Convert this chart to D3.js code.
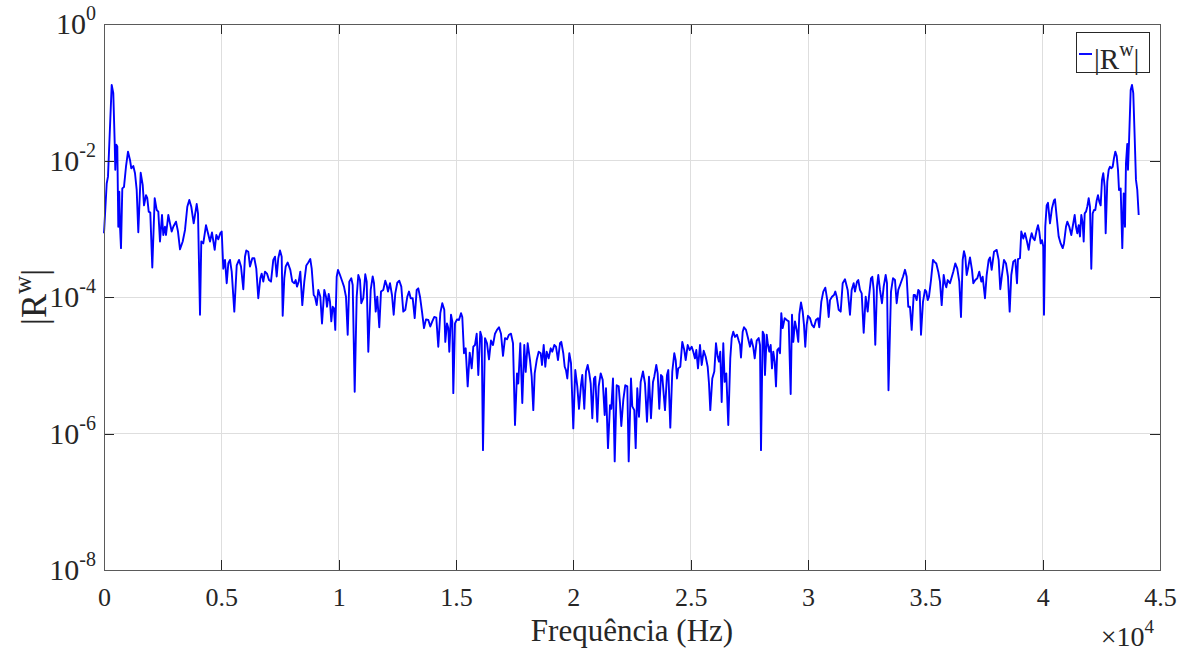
<!DOCTYPE html>
<html><head><meta charset="utf-8">
<script src="https://cdn.jsdelivr.net/npm/d3@7"></script>
<style>
body{margin:0;background:#fff}
text{font-family:"Liberation Serif","Times New Roman",serif;fill:#262626}
</style>
</head><body>
<svg id="chart" width="1195" height="653"></svg>
<script>
// ---- data ----
const freqHz = [0,115,170,328,396,456,481,524,567,609,652,682,724,780,852,937,1023,1108,1163,1249,1321,1393,1462,1564,1649,1705,1790,1845,1905,1973,2058,2160,2246,2314,2386,2472,2527,2599,2642,2740,2812,2885,2953,3068,3153,3239,3354,3452,3550,3635,3720,3822,3950,4006,4091,4146,4231,4347,4432,4517,4602,4717,4786,4871,4956,5016,5084,5156,5229,5297,5369,5442,5553,5655,5753,5838,5936,6008,6064,6149,6221,6320,6405,6490,6575,6661,6720,6788,6861,6946,7031,7116,7214,7287,7359,7427,7500,7572,7615,7683,7743,7828,7939,8024,8109,8169,8224,8297,8365,8450,8535,8621,8706,8791,8851,8936,8991,9064,9132,9218,9290,9388,9460,9503,9575,9631,9686,9746,9801,9856,9916,9971,10057,10142,10227,10312,10385,10453,10538,10598,10683,10768,10837,10909,10964,11049,11134,11194,11263,11365,11450,11506,11578,11646,11731,11804,11902,11987,12047,12102,12187,12272,12345,12413,12498,12584,12669,12754,12839,12925,12997,13069,13154,13240,13325,13393,13466,13551,13636,13721,13820,13905,13990,14075,14160,14245,14331,14416,14501,14544,14616,14672,14714,14787,14842,14885,14957,15042,15128,15213,15268,15341,15413,15498,15584,15669,15737,15809,15882,15950,16035,16095,16150,16236,16321,16406,16491,16576,16662,16747,16832,16917,17003,17088,17173,17258,17343,17429,17514,17599,17654,17740,17825,17910,17970,18055,18153,18225,18294,18353,18439,18524,18609,18665,18737,18805,18865,18950,19035,19103,19189,19261,19346,19432,19487,19572,19632,19687,19743,19828,19901,19998,20083,20169,20241,20326,20382,20467,20539,20612,20680,20740,20808,20880,20936,21021,21081,21166,21251,21336,21392,21477,21562,21618,21690,21763,21848,21933,21988,22044,22129,22214,22300,22359,22457,22512,22597,22657,22725,22798,22870,22968,23054,23139,23224,23309,23395,23450,23535,23594,23663,23735,23791,23906,23991,24047,24132,24217,24302,24362,24417,24472,24558,24643,24728,24788,24873,24958,25044,25112,25184,25240,25312,25397,25470,25555,25640,25725,25781,25836,25921,26007,26079,26151,26207,26262,26322,26390,26450,26518,26603,26688,26748,26816,26889,26974,27046,27102,27144,27217,27272,27358,27443,27528,27584,27669,27729,27814,27899,27954,27997,28069,28125,28167,28240,28295,28350,28410,28465,28521,28581,28636,28691,28751,28807,28862,28922,29007,29092,29177,29262,29318,29373,29446,29518,29586,29629,29701,29774,29829,29884,29944,29999,30084,30170,30255,30340,30426,30481,30566,30651,30737,30822,30882,30937,31022,31107,31163,31223,31308,31393,31478,31576,31690,31789,31861,31946,32002,32088,32143,32215,32288,32373,32458,32543,32599,32684,32740,32799,32867,32940,32995,33068,33153,33225,33310,33366,33430,33537,33622,33707,33779,33847,33950,34048,34133,34205,34273,34346,34418,34503,34559,34631,34699,34759,34815,34900,34985,35041,35100,35156,35241,35326,35381,35467,35552,35624,35697,35782,35837,35893,35952,36050,36191,36276,36362,36447,36519,36592,36647,36703,36762,36818,36903,36988,37044,37129,37214,37299,37385,37444,37542,37614,37699,37755,37827,37926,38040,38125,38194,38266,38352,38437,38522,38594,38663,38748,38833,38906,38948,39033,39089,39174,39247,39319,39404,39460,39532,39600,39660,39745,39801,39856,39916,39971,40026,40056,40111,40171,40226,40312,40397,40482,40525,40597,40682,40767,40853,40908,40994,41050,41135,41220,41279,41365,41420,41476,41535,41590,41646,41706,41748,41791,41846,41902,41961,42016,42072,42131,42187,42242,42302,42357,42413,42472,42528,42583,42643,42685,42754,42813,42869,42924,42984,43039,43095,43155,43210,43253,43324,43393,43453,43508,43550,43606,43636,43678,43751,43806,43861,43921,43976,44032,44092];

const magnitude = [8.6e-4,4.6e-3,5.8e-3,0.128,0.097,0.018,7.3e-3,0.017,0.016,1.07e-3,3.5e-3,1.07e-3,5.2e-4,3.9e-3,4.1e-3,8.1e-3,0.0135,0.0102,7.7e-3,8.3e-3,6.5e-3,3.7e-3,8.9e-4,6.6e-3,4.4e-3,2.2e-3,3.1e-3,2.8e-3,1.78e-3,1.72e-3,2.7e-4,2.8e-3,1.88e-3,1.78e-3,6.5e-4,1.59e-3,8.1e-4,1.07e-3,8.1e-4,1.59e-3,1.2e-3,9.1e-4,1.07e-3,1.27e-3,9.1e-4,5.0e-4,6.5e-4,9.6e-4,2.1e-3,2.64e-3,2.1e-3,1.2e-3,2.3e-3,1.68e-3,5.5e-5,6.5e-4,6.1e-4,1.13e-3,8.6e-4,6.5e-4,8.8e-4,4.9e-4,8.1e-4,7.0e-4,8.6e-4,9.1e-4,2.6e-4,3.5e-4,1.59e-4,3.1e-4,3.5e-4,2.35e-4,6.1e-5,2.9e-4,3.5e-4,2.8e-4,1.3e-4,3.9e-4,4.8e-4,4.6e-4,2.8e-4,3.7e-4,3.7e-4,2.6e-4,9.6e-5,1.88e-4,2.2e-4,1.68e-4,2.35e-4,2.2e-4,1.77e-4,1.68e-4,3.5e-4,3.9e-4,2.0e-4,3.7e-4,4.8e-4,3.9e-4,5.3e-5,1.88e-4,2.8e-4,3.2e-4,2.5e-4,1.68e-4,1.59e-4,1.77e-4,1.42e-4,1.68e-4,2.35e-4,7.6e-5,1.68e-4,2.9e-4,3.2e-4,3.6e-4,2.6e-4,1.07e-4,1.01e-4,7.6e-5,1.27e-4,1.01e-4,4.1e-5,1.27e-4,1.01e-4,7.2e-5,1.11e-4,8.5e-5,4.4e-5,7.2e-5,6.8e-5,3.3e-5,1.98e-4,2.5e-4,2.1e-4,1.73e-4,1.42e-4,1.01e-4,2.8e-5,1.68e-4,1.88e-4,1.5e-4,4.1e-6,1.01e-4,2.1e-4,1.77e-4,8.1e-5,9.6e-5,2.15e-4,1.68e-4,1.58e-5,1.27e-4,2.0e-4,1.59e-4,6.1e-5,1.01e-4,3.6e-5,1.2e-4,1.27e-4,1.73e-4,1.5e-4,1.2e-4,1.59e-4,1.07e-4,5.5e-5,1.13e-4,1.62e-4,1.73e-4,1.42e-4,6.1e-5,6.5e-5,1.01e-4,1.2e-4,9.6e-5,9.6e-5,4.9e-5,1.27e-4,1.34e-4,1.01e-4,6.1e-5,3.5e-5,4.7e-5,4.6e-5,3.7e-5,4.4e-5,5.1e-5,5.0e-5,1.87e-5,5.8e-5,8.1e-5,6.5e-5,2.2e-5,4.1e-5,3.5e-5,1.58e-5,5.5e-5,4.4e-5,3.9e-6,4.1e-5,4.7e-5,4.6e-5,5.8e-5,5.1e-5,1.5e-5,1.77e-5,4.9e-6,1.53e-5,9.0e-6,1.87e-5,1.98e-5,2.9e-5,7.2e-6,3.1e-5,2.6e-5,5.7e-7,2.5e-5,2.1e-5,1.22e-5,2.3e-5,1.98e-5,2.9e-5,3.3e-5,3.6e-5,2.9e-5,1.37e-5,2.5e-5,2.4e-5,2.8e-5,2.9e-5,2.1e-5,1.33e-6,7.6e-6,5.4e-6,2.1e-5,2.8e-6,1.98e-5,8.0e-6,2.1e-5,1.19e-5,6.8e-6,2.2e-6,7.6e-6,1.19e-5,1.58e-5,1.5e-5,1.01e-5,1.98e-5,9.5e-6,1.58e-5,1.26e-5,1.77e-5,1.58e-5,1.98e-5,1.87e-5,1.19e-5,2.1e-5,2.2e-5,1.5e-5,9.5e-6,8.5e-6,6.4e-6,1.5e-5,1.07e-5,1.19e-6,8.5e-6,4.9e-6,2.3e-6,5.1e-6,7.2e-6,2.3e-6,8.1e-6,1.01e-5,7.6e-6,5.4e-6,1.67e-6,6.4e-6,6.8e-6,1.49e-6,4.9e-6,7.6e-6,6.1e-6,1.87e-6,4.6e-6,6.1e-7,2.6e-6,2.3e-6,6.4e-6,3.9e-7,5.1e-6,4.9e-6,2.8e-6,1.29e-6,3.1e-6,5.1e-6,4.9e-6,3.9e-7,6.4e-6,2.5e-6,2.2e-6,6.1e-7,4.6e-6,1.76e-6,5.7e-6,8.1e-6,5.4e-6,1.49e-6,6.8e-6,1.67e-6,5.7e-6,6.8e-6,1.01e-5,7.6e-6,2.3e-6,7.2e-6,6.8e-6,2.2e-6,7.2e-6,8.5e-6,1.22e-6,8.1e-6,1.5e-5,1.19e-5,6.4e-6,9.0e-6,9.5e-6,2.2e-5,1.67e-5,1.19e-5,1.98e-5,1.67e-5,1.87e-5,1.58e-5,1.26e-5,1.67e-5,9.0e-6,1.98e-5,1.01e-5,1.63e-5,1.33e-5,9.5e-6,5.4e-6,2.2e-6,6.4e-6,8.1e-6,2.1e-5,1.33e-5,1.13e-5,1.58e-5,2.9e-6,2.1e-5,5.7e-6,7.6e-6,1.33e-6,1.26e-5,2.5e-5,3.1e-5,2.6e-5,2.8e-5,2.3e-5,2.0e-5,1.3e-5,3.1e-5,3.6e-5,3.3e-5,2.5e-5,1.87e-5,2.4e-5,1.83e-5,1.26e-5,2.3e-5,2.5e-5,1.98e-5,5.7e-7,3.1e-5,2.8e-5,7.2e-6,2.8e-5,1.98e-5,1.58e-5,1.98e-5,9.0e-6,1.58e-5,1.13e-5,4.9e-6,1.67e-5,1.77e-5,1.5e-5,5.8e-5,3.5e-5,4.9e-5,4.6e-5,4.4e-5,3.8e-6,5.5e-5,2.2e-5,4.4e-5,3.3e-5,2.2e-5,5.5e-5,8.3e-5,6.1e-5,3.9e-5,1.87e-5,3.9e-5,5.3e-5,4.9e-5,3.9e-5,3.6e-5,4.6e-5,4.9e-5,3.6e-5,8.5e-5,1.2e-4,1.37e-4,9.0e-5,5.1e-5,9.0e-5,1.01e-4,1.07e-4,1.2e-4,1.01e-4,6.5e-5,6.1e-5,1.59e-4,1.82e-4,1.27e-4,5.5e-5,1.27e-4,1.59e-4,1.2e-4,1.68e-4,1.77e-4,1.27e-4,1.13e-4,3.0e-5,1.01e-4,6.1e-5,1.01e-4,1.88e-4,1.98e-4,1.27e-4,2.0e-5,1.42e-4,2.1e-4,1.27e-4,8.1e-5,1.42e-4,2.1e-4,1.59e-4,4.3e-6,1.2e-4,1.88e-4,1.77e-4,8.1e-5,1.27e-4,1.59e-4,1.98e-4,2.5e-4,1.98e-4,7.2e-5,7.2e-5,3.3e-5,1.07e-4,1.07e-4,9.0e-5,1.27e-4,1.2e-4,2.8e-5,8.5e-5,1.27e-4,1.2e-4,9.0e-5,1.01e-4,1.77e-4,3.5e-4,3.3e-4,3.1e-4,2.35e-4,1.68e-4,7.6e-5,2.1e-4,1.59e-4,1.39e-4,1.77e-4,1.59e-4,2.35e-4,3.1e-4,2.6e-4,1.68e-4,5.1e-5,3.5e-4,4.7e-4,3.9e-4,2.1e-4,2.6e-4,3.8e-4,2.5e-4,1.59e-4,1.77e-4,1.88e-4,2.35e-4,1.68e-4,1.98e-4,9.6e-5,2.1e-4,3.5e-4,3.8e-4,2.5e-4,4.6e-4,4.9e-4,3.5e-4,1.3e-4,2.1e-4,3.5e-4,3.1e-4,1.98e-4,6.1e-5,2.1e-4,3.3e-4,3.5e-4,1.59e-4,3.6e-4,3.7e-4,9.1e-4,7.2e-4,8.6e-4,6.8e-4,4.9e-4,6.8e-4,8.6e-4,7.2e-4,6.8e-4,9.6e-4,1.13e-3,9.1e-4,6.1e-4,6.8e-4,5.5e-4,5.5e-5,1.07e-3,2.2e-3,2.4e-3,1.2e-3,2.0e-3,2.6e-3,2.7e-3,1.5e-3,7.7e-4,6.1e-4,5.2e-4,6.1e-4,1.07e-3,1.27e-3,1.07e-3,8.1e-4,1.07e-3,1.59e-3,1.07e-3,8.6e-4,1.13e-3,7.7e-4,1.59e-3,1.2e-3,6.5e-4,1.68e-3,1.78e-3,2.1e-3,2.8e-3,2.1e-3,2.6e-4,1.68e-3,1.88e-3,1.88e-3,2.6e-3,3.1e-3,2.5e-3,2.2e-3,5.2e-3,6.5e-3,4.1e-3,8.6e-4,4.9e-3,7.3e-3,8.1e-3,7.7e-3,8.1e-3,0.0108,0.0135,0.0116,7.3e-3,3.7e-3,3.9e-3,5.2e-4,3.3e-3,1.07e-3,9.1e-3,0.0175,7.3e-3,0.0179,0.108,0.128,0.097,0.022,5.2e-3,3.7e-3,1.59e-3];

const xTickValues = [0,5000,10000,15000,20000,25000,30000,35000,40000,45000];
const xTickLabels = ["0","0.5","1","1.5","2","2.5","3","3.5","4","4.5"];
const yTickValues = [1e-8,1e-6,1e-4,1e-2,1];
const yTickExponents = ["-8","-6","-4","-2","0"];
const xAxisTitle = "Frequência (Hz)";
const seriesLabel = {base:"|R", sup:"w", tail:"|"};

// ---- layout ----
const L=104, R=1160, T=24, B=570;
const svg = d3.select("#chart");
const x = d3.scaleLinear().domain([0,45000]).range([L,R]);
const y = d3.scaleLog().domain([1e-8,1]).range([B,T]);

// grid
const grid = svg.append("g").attr("stroke","#dedede").attr("stroke-width",1).attr("shape-rendering","crispEdges");
xTickValues.slice(1,-1).forEach(v=>grid.append("line").attr("x1",x(v)).attr("x2",x(v)).attr("y1",T).attr("y2",B));
yTickValues.slice(1,-1).forEach(v=>grid.append("line").attr("x1",L).attr("x2",R).attr("y1",y(v)).attr("y2",y(v)));

// data line
const pts = freqHz.map((f,i)=>[f,magnitude[i]]);
svg.append("path").datum(pts)
  .attr("fill","none").attr("stroke","#0000ff").attr("stroke-width",1.9).attr("stroke-linejoin","round")
  .attr("d", d3.line().x(d=>x(d[0])).y(d=>y(d[1])));

// axes (inward ticks on all four sides)
const tl = 10;
const axB = svg.append("g").attr("transform",`translate(0,${B})`)
  .call(d3.axisBottom(x).tickValues(xTickValues).tickSize(-tl).tickFormat((d,i)=>xTickLabels[i]).tickPadding(18));
const axT = svg.append("g").attr("transform",`translate(0,${T})`)
  .call(d3.axisTop(x).tickValues(xTickValues).tickSize(-tl).tickFormat(""));
const axL = svg.append("g").attr("transform",`translate(${L},0)`)
  .call(d3.axisLeft(y).tickValues(yTickValues).tickSize(-tl).tickFormat(""));
const axR = svg.append("g").attr("transform",`translate(${R},0)`)
  .call(d3.axisRight(y).tickValues(yTickValues).tickSize(-tl).tickFormat(""));
[axB,axT,axL,axR].forEach(a=>{
  a.select(".domain").remove();
  a.selectAll(".tick line").attr("stroke","#262626").attr("shape-rendering","crispEdges");
});
axB.selectAll(".tick text").attr("font-size",26).attr("fill","#262626")
  .attr("font-family",'"Liberation Serif",serif').attr("dy","0.71em");

svg.append("rect").attr("x",L).attr("y",T).attr("width",R-L).attr("height",B-T)
  .attr("fill","none").attr("stroke","#5a5a5a").attr("stroke-width",1).attr("shape-rendering","crispEdges");

// y tick labels 10^n
yTickValues.forEach((v,i)=>{
  const t = svg.append("text").attr("x",96).attr("y",y(v)+10).attr("text-anchor","end").attr("font-size",30);
  t.append("tspan").text("10");
  t.append("tspan").attr("dy",-14).attr("font-size",20).text(yTickExponents[i]);
});

// x axis title
svg.append("text").attr("x",(L+R)/2).attr("y",641).attr("text-anchor","middle").attr("font-size",31).text(xAxisTitle);

// x10^4 multiplier
const mult = svg.append("text").attr("x",1154).attr("y",646).attr("text-anchor","end").attr("font-size",28);
mult.append("tspan").text("\u00d710");
mult.append("tspan").attr("dy",-13).attr("font-size",19).text("4");

// y axis title
const yt = svg.append("text").attr("transform","translate(46,297) rotate(-90)").attr("text-anchor","middle").attr("font-size",36);
yt.append("tspan").text(seriesLabel.base);
yt.append("tspan").attr("dy",-15).attr("font-size",25).text(seriesLabel.sup);
yt.append("tspan").attr("dy",15).text(seriesLabel.tail);

// legend
const lg = svg.append("g");
lg.append("rect").attr("x",1076).attr("y",32).attr("width",73).attr("height",40)
  .attr("fill","#fff").attr("stroke","#262626").attr("stroke-width",1).attr("shape-rendering","crispEdges");
lg.append("line").attr("x1",1079).attr("x2",1092).attr("y1",54).attr("y2",54).attr("stroke","#0000ff").attr("stroke-width",1.9);
const lt = lg.append("text").attr("x",1094).attr("y",69).attr("font-size",29);
lt.append("tspan").text(seriesLabel.base);
lt.append("tspan").attr("dy",-13).attr("font-size",20).text(seriesLabel.sup);
lt.append("tspan").attr("dy",13).text(seriesLabel.tail);
</script>
</body></html>
